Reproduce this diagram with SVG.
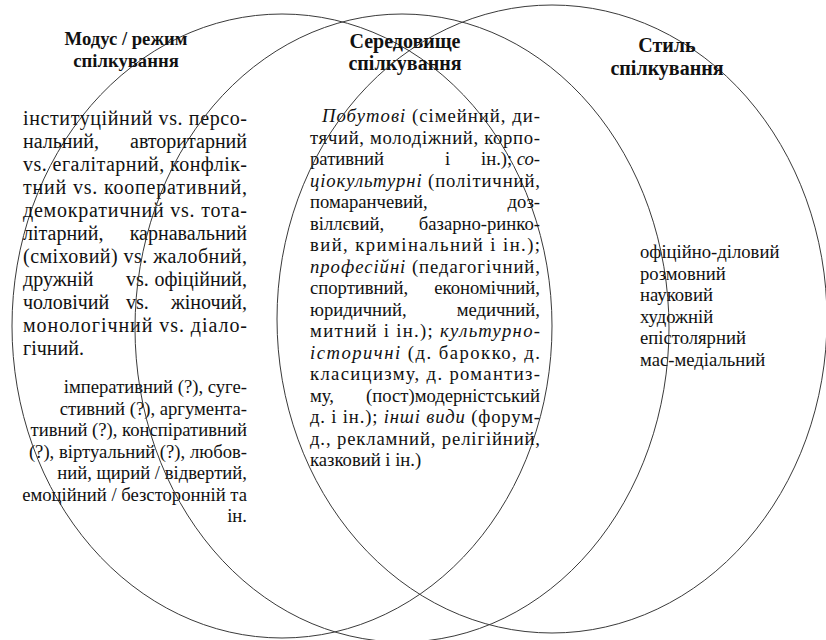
<svg xmlns="http://www.w3.org/2000/svg" width="826" height="640" viewBox="0 0 826 640">
<style>
.e{fill:none;stroke:#3a3a3a;stroke-width:1}
.h{font-family:"Liberation Serif","Times New Roman",serif;font-weight:bold;font-size:18.67px;fill:#111;text-anchor:middle}
.h2{font-size:20px}
.t{font-family:"Liberation Serif","Times New Roman",serif;font-size:18.67px;fill:#111}
.b{font-size:20px}
.i{font-style:italic}
.r{text-anchor:end}
</style>
<rect width="826" height="640" fill="#fff"/>
<g id="modus">
<ellipse class="e" cx="282" cy="326" rx="270" ry="312"/>
<text class="h" x="126" y="45">Модус / режим</text>
<text class="h" x="126" y="67">спілкування</text>
<g class="t b">
<text x="23" y="125" textLength="224" lengthAdjust="spacing">інституційний vs. персо-</text>
<text x="23" y="148">нальний,</text><text class="r" x="247" y="148">авторитарний</text>
<text x="23" y="171" textLength="224" lengthAdjust="spacing">vs. егалітарний, конфлік-</text>
<text x="23" y="194" textLength="224" lengthAdjust="spacing">тний vs. кооперативний,</text>
<text x="23" y="217" textLength="224" lengthAdjust="spacing">демократичний vs. тота-</text>
<text x="23" y="240">літарний,</text><text class="r" x="247" y="240">карнавальний</text>
<text x="23" y="263" textLength="224" lengthAdjust="spacing">(сміховий) vs. жалобний,</text>
<text x="23" y="286">дружній</text><text x="126" y="286">vs.</text><text class="r" x="247" y="286">офіційний,</text>
<text x="23" y="309">чоловічий</text><text x="126" y="309">vs.</text><text class="r" x="247" y="309">жіночий,</text>
<text x="23" y="332" textLength="224" lengthAdjust="spacing">монологічний vs. діало-</text>
<text x="23" y="355">гічний.</text>
</g>
<g class="t r">
<text x="247" y="393">імперативний (?), суге-</text>
<text x="247" y="414.5">стивний (?), аргумента-</text>
<text x="247" y="436">тивний (?),  конспіративний</text>
<text x="247" y="457.5">(?), віртуальний (?), любов-</text>
<text x="247" y="479">ний, щирий / відвертий,</text>
<text x="247" y="500.5">емоційний / безсторонній та</text>
<text x="247" y="522">ін.</text>
</g>
</g>
<g id="seredovyshche">
<ellipse class="e" cx="402" cy="328" rx="267" ry="314"/>
<text class="h h2" x="405" y="48">Середовище</text>
<text class="h h2" x="405" y="70">спілкування</text>
<g class="t">
<text x="322" y="122" textLength="218" lengthAdjust="spacing"><tspan class="i">Побутові</tspan> (сімейний, ди-</text>
<text x="310" y="143.5" textLength="230" lengthAdjust="spacing">тячий, молодіжний, корпо-</text>
<text x="310" y="165">ративний</text><text x="445" y="165">і</text><text x="481" y="165">ін.);</text><text class="r i" x="540" y="165">со-</text>
<text x="310" y="186.5" textLength="230" lengthAdjust="spacing"><tspan class="i">ціокультурні</tspan> (політичний,</text>
<text x="310" y="208">помаранчевий,</text><text class="r" x="540" y="208">доз-</text>
<text x="310" y="229.5">віллєвий,</text><text class="r" x="540" y="229.5">базарно-ринко-</text>
<text x="310" y="251" textLength="230" lengthAdjust="spacing">вий, кримінальний і ін.);</text>
<text x="310" y="272.5" textLength="230" lengthAdjust="spacing"><tspan class="i">професійні</tspan> (педагогічний,</text>
<text x="310" y="294">спортивний,</text><text class="r" x="540" y="294">економічний,</text>
<text x="310" y="315.5">юридичний,</text><text class="r" x="540" y="315.5">медичний,</text>
<text x="310" y="337" textLength="230" lengthAdjust="spacing">митний і ін.); <tspan class="i">культурно-</tspan></text>
<text x="310" y="358.5" textLength="230" lengthAdjust="spacing"><tspan class="i">історичні</tspan> (д. барокко, д.</text>
<text x="310" y="380" textLength="230" lengthAdjust="spacing">класицизму, д. романтиз-</text>
<text x="310" y="401.5">му,</text><text class="r" x="540" y="401.5">(пост)модерністський</text>
<text x="310" y="423" textLength="230" lengthAdjust="spacing">д. і ін.); <tspan class="i">інші види</tspan> (форум-</text>
<text x="310" y="444.5" textLength="230" lengthAdjust="spacing">д., рекламний, релігійний,</text>
<text x="310" y="466">казковий і ін.)</text>
</g>
</g>
<g id="styl">
<ellipse class="e" cx="552" cy="319" rx="275" ry="314"/>
<text class="h h2" x="667" y="52">Стиль</text>
<text class="h h2" x="667" y="75">спілкування</text>
<g class="t">
<text x="640" y="258">офіційно-діловий</text>
<text x="640" y="279.5">розмовний</text>
<text x="640" y="301">науковий</text>
<text x="640" y="322.5">художній</text>
<text x="640" y="344">епістолярний</text>
<text x="640" y="365.5">мас-медіальний</text>
</g>
</g>
</svg>
